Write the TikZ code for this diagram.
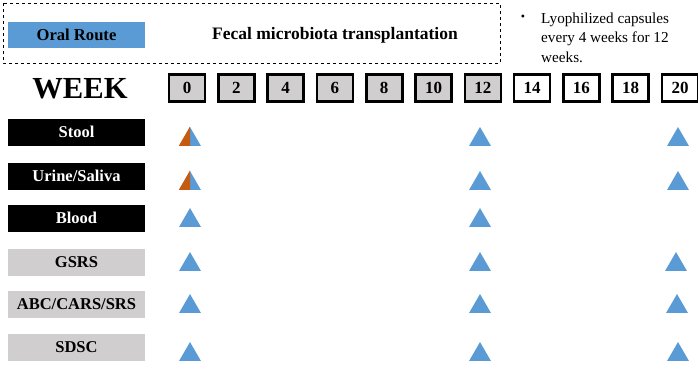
\documentclass[tikz,border=0pt]{standalone}
\usepackage{fontspec}
\setmainfont{Liberation Serif}
\usepackage{xcolor}
\usepackage{tikz}
\usetikzlibrary{shapes.geometric}

\definecolor{routeblue}{HTML}{5B9BD5}
\definecolor{fmtorange}{HTML}{C55A11}
\definecolor{boxgray}{HTML}{D0CECE}

\begin{document}
\begin{tikzpicture}[x=1pt, y=-1pt, every node/.style={inner sep=0pt},
    weekbox/.style={draw, line width=2.6pt, fill=boxgray, minimum width=36pt, minimum height=27pt, font=\fontsize{17}{17}\selectfont\bfseries},
    darklabel/.style={fill=black, text=white, minimum width=137pt, minimum height=27pt, font=\fontsize{16.5}{16.5}\selectfont\bfseries},
    lightlabel/.style={darklabel, fill=boxgray, text=black},
    tri/.style={regular polygon, regular polygon sides=3, fill=routeblue, minimum size=25pt}]
    \useasboundingbox (0,0) rectangle (698,364);

    % Intestazione
    \draw[dashed, line width=0.6pt] (3,3) rectangle (500,63);
    \node[fill=routeblue, minimum width=137pt, minimum height=26pt, font=\fontsize{16.6}{16.6}\selectfont\bfseries] (route) at (76.5,35) {Oral Route};
    \node[font=\fontsize{17.5}{17.5}\selectfont\bfseries] (fmt) at (335,35) {Fecal microbiota transplantation};
    \node[font=\fontsize{12}{12}\selectfont] (bul) at (523,18) {\textbullet};
    \node[anchor=north west, align=left, font=\fontsize{15.2}{19.5}\selectfont] (note) at (541,12.5) {Lyophilized capsules\\every 4 weeks for 12\\weeks.};

    % Settimane
    \node[font=\fontsize{30.6}{30.6}\selectfont\bfseries] (week) at (80,89) {WEEK};
    \node[weekbox] (w0) at (187,88) {0};
    \node[weekbox] (w2) at (236.3,88) {2};
    \node[weekbox] (w4) at (285.6,88) {4};
    \node[weekbox] (w6) at (334.9,88) {6};
    \node[weekbox] (w8) at (384.2,88) {8};
    \node[weekbox] (w10) at (433.5,88) {10};
    \node[weekbox] (w12) at (482.8,88) {12};
    \node[weekbox, fill=white] (w14) at (532.1,88) {14};
    \node[weekbox, fill=white] (w16) at (581.4,88) {16};
    \node[weekbox, fill=white] (w18) at (630.7,88) {18};
    \node[weekbox, fill=white] (w20) at (680,88) {20};

    % Campioni
    \node[darklabel] (stool) at (76.5,132) {Stool};
    \node[darklabel] (urine) at (76.5,176) {Urine/Saliva};
    \node[darklabel] (blood) at (76.5,218) {Blood};
    \node[lightlabel] (gsrs) at (76.5,262) {GSRS};
    \node[lightlabel] (abc) at (76.5,304.5) {ABC/CARS/SRS};
    \node[lightlabel] (sdsc) at (76.5,347) {SDSC};

    % Triangoli
    \node[tri] (s0) at (190,139.5) {};
    \node[tri] (s12) at (480,139.5) {};
    \node[tri] (s20) at (678,139.5) {};
    \node[tri] (u0) at (190,183.5) {};
    \node[tri] (u12) at (480,183.5) {};
    \node[tri] (u20) at (678,183.5) {};
    \node[tri] (b0) at (190,220.5) {};
    \node[tri] (b12) at (480,220.5) {};
    \node[tri] (g0) at (190,264.5) {};
    \node[tri] (g12) at (480,264.5) {};
    \node[tri] (g20) at (676,264.5) {};
    \node[tri] (a0) at (190,306.5) {};
    \node[tri] (a12) at (480,306.5) {};
    \node[tri] (a20) at (677,306.5) {};
    \node[tri] (d0) at (190,354.5) {};
    \node[tri] (d12) at (480,354.5) {};
    \node[tri] (d20) at (678,354.5) {};
    \fill[fmtorange] (s0.corner 1) -- (s0.corner 2) -- (s0.corner 1 |- s0.corner 2) -- cycle;
    \fill[fmtorange] (u0.corner 1) -- (u0.corner 2) -- (u0.corner 1 |- u0.corner 2) -- cycle;
\end{tikzpicture}
\end{document}
